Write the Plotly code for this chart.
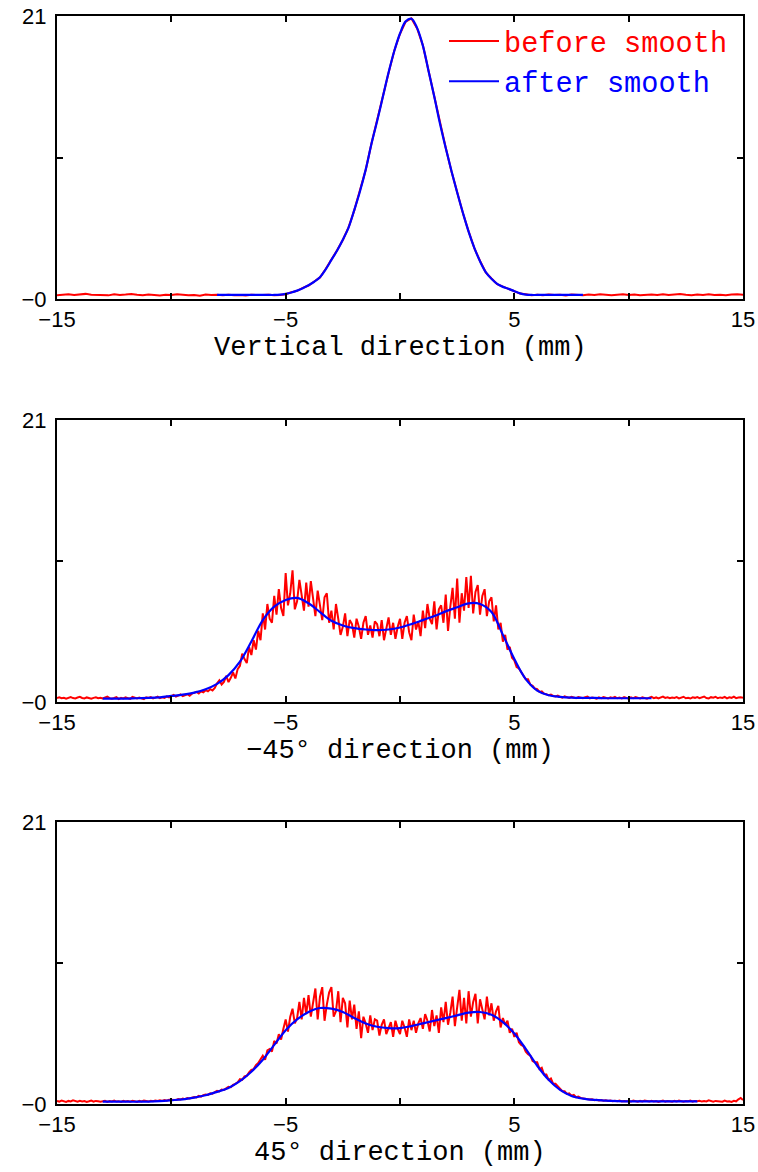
import numpy as np
import plotly.graph_objects as go

# ---------------- data ----------------
# Panel 1: vertical direction. Red sampled every 0.25 mm from -15 to 15
V_RED = [
    0.28, 0.33, 0.36, 0.30,  0.34, 0.38, 0.32, 0.29,  0.31, 0.27, 0.35, 0.30,
    0.33, 0.37, 0.31, 0.28,  0.34, 0.30, 0.26, 0.32,  0.29, 0.35, 0.31, 0.27,
    0.30, 0.25, 0.33, 0.29,  0.31, 0.28, 0.32, 0.27,  0.30, 0.26, 0.31, 0.28,
    0.29, 0.32, 0.27, 0.30,  0.36, 0.50, 0.60, 0.82,  1.00, 1.30, 1.60, 2.22,
    2.88, 3.62, 4.38, 5.32,  6.58, 8.02, 9.57, 11.52, 13.18, 15.02, 16.78, 18.42,
    19.68, 20.58, 20.82, 20.08, 18.82, 16.88, 15.02, 12.98, 11.22, 9.48, 7.92, 6.38,
    5.02, 3.78, 2.82, 1.98,  1.52, 1.10, 0.92, 0.73,  0.60, 0.40, 0.35, 0.28,
    0.32, 0.27, 0.33, 0.29,  0.31, 0.26, 0.34, 0.30,  0.28, 0.33, 0.29, 0.35,
    0.30, 0.27, 0.32, 0.36,  0.29, 0.33, 0.28, 0.31,  0.34, 0.30, 0.36, 0.29,
    0.32, 0.37, 0.31, 0.28,  0.33, 0.30, 0.35, 0.29,  0.31, 0.27, 0.33, 0.36,
    0.32,
]
# Blue sampled every 0.25 mm from -8 to 8
V_BLUE = [
    0.3, 0.3, 0.3, 0.3, 0.3, 0.3, 0.3, 0.3, 0.3, 0.3, 0.3,
    0.32, 0.38, 0.48, 0.62, 0.8, 1.02, 1.28, 1.62, 2.2, 2.9, 3.6, 4.4, 5.3,
    6.6, 8.0, 9.6, 11.5, 13.2, 15.0, 16.8, 18.4, 19.7, 20.6, 20.8, 20.1,
    18.8, 16.9, 15.0, 13.0, 11.2, 9.5, 7.9, 6.4, 5.0, 3.8, 2.8, 2.0,
    1.5, 1.12, 0.9, 0.75, 0.58, 0.42, 0.33,
    0.3, 0.3, 0.3, 0.3, 0.3, 0.3, 0.3, 0.3, 0.3, 0.3,
]

# Panel 2: -45 degree direction. Red every 0.1 mm from -15 to 15
M45_RED = [
    0.30, 0.35, 0.28, 0.32, 0.25, 0.31, 0.36, 0.29, 0.27, 0.33,
    0.38, 0.30, 0.26, 0.34, 0.29, 0.24, 0.31, 0.35, 0.28, 0.32,
    0.27, 0.33, 0.40, 0.29, 0.25, 0.30, 0.36, 0.22, 0.31, 0.27,
    0.34, 0.29, 0.24, 0.38, 0.31, 0.26, 0.33, 0.28, 0.21, 0.35,
    0.30, 0.36, 0.27, 0.33, 0.40, 0.29, 0.35, 0.31, 0.42, 0.34,
    0.45, 0.52, 0.40, 0.48, 0.56, 0.44, 0.50, 0.58, 0.47, 0.62,
    0.68, 0.75, 0.64, 0.80, 0.72, 0.88, 0.79, 0.95, 0.86, 1.05,
    1.40, 1.62, 1.31, 1.50, 1.95, 1.48, 1.80, 2.20, 1.75, 2.45,
    2.7, 3.6, 3.2, 2.9, 4.1, 3.5, 4.6, 3.9, 5.3, 4.6,
    6.6, 5.4, 7.3, 6.2, 5.9, 7.9, 6.5, 8.4, 7.0, 6.4,
    9.6, 7.2, 8.1, 9.8, 6.9, 7.5, 9.1, 8.0, 6.8, 8.9,
    7.1, 9.0, 7.6, 6.4, 8.3, 7.0, 6.1, 7.8, 8.1, 5.9,
    6.8, 5.4, 7.3, 6.2, 5.0, 5.6, 6.6, 4.9, 6.1, 5.8,
    4.8, 6.2, 5.6, 4.7, 5.9, 6.4, 5.0, 5.7, 4.8, 6.0,
    5.8, 4.9, 6.1, 4.6, 5.5, 6.3, 5.0, 5.9, 4.7, 5.6,
    6.2, 4.7, 5.9, 6.4, 5.2, 4.6, 6.5, 5.4, 6.0, 4.9,
    6.8, 5.5, 7.3, 6.2, 5.8, 7.5, 5.4, 6.9, 7.2, 5.9,
    8.0, 5.3, 7.1, 8.5, 6.2, 9.2, 5.9, 8.1, 6.8, 9.3,
    7.0, 9.4, 6.6, 8.2, 8.7, 6.5, 7.9, 8.4, 6.4, 7.5,
    7.8, 6.0, 7.2, 5.4, 5.9, 4.5, 5.0, 3.9, 4.1, 3.3,
    3.1, 2.6, 2.5, 2.2, 2.0, 1.7, 1.7, 1.3, 1.2, 1.0,
    0.95, 0.75, 0.80, 0.62, 0.58, 0.50, 0.55, 0.45, 0.42, 0.48,
    0.38, 0.32, 0.42, 0.35, 0.30, 0.38, 0.33, 0.29, 0.36, 0.31,
    0.28, 0.35, 0.40, 0.27, 0.33, 0.30, 0.25, 0.34, 0.29, 0.37,
    0.31, 0.26, 0.35, 0.30, 0.38, 0.28, 0.33, 0.27, 0.36, 0.30,
    0.25, 0.34, 0.29, 0.37, 0.31, 0.27, 0.35, 0.30, 0.24, 0.33,
    0.38, 0.29, 0.34, 0.26, 0.32, 0.40, 0.30, 0.35, 0.28, 0.33,
    0.30, 0.36, 0.27, 0.34, 0.39, 0.28, 0.32, 0.26, 0.35, 0.31,
    0.37, 0.29, 0.33, 0.41, 0.30, 0.27, 0.36, 0.32, 0.38, 0.28,
    0.34, 0.30, 0.38, 0.27, 0.35, 0.31, 0.40, 0.29, 0.33, 0.36,
    0.32,
]
# Blue every 0.5 mm from -13 to 11
M45_BLUE = [
    0.25, 0.25, 0.25, 0.28, 0.3, 0.35, 0.45, 0.55, 0.7, 0.95,
    1.35, 2.0, 3.0, 4.5, 6.1, 7.1, 7.6, 7.75, 7.35, 6.7,
    6.05, 5.7, 5.5, 5.4, 5.35, 5.4, 5.55, 5.8, 6.1, 6.4,
    6.75, 7.05, 7.35, 7.3, 6.7, 5.0, 3.2, 1.7, 0.85, 0.5,
    0.38, 0.32, 0.3, 0.3, 0.28, 0.28, 0.28, 0.28, 0.28,
]

# Panel 3: 45 degree direction. Red every 0.1 mm from -15 to 15
P45_RED = [
    0.22, 0.18, 0.25, 0.20, 0.16, 0.23, 0.19, 0.27, 0.21, 0.17,
    0.24, 0.19, 0.22, 0.15, 0.20, 0.26, 0.18, 0.23, 0.21, 0.17,
    0.20, 0.24, 0.16, 0.22, 0.19, 0.25, 0.18, 0.21, 0.15, 0.23,
    0.19, 0.22, 0.17, 0.24, 0.20, 0.16, 0.23, 0.19, 0.25, 0.21,
    0.18, 0.24, 0.20, 0.26, 0.22, 0.27, 0.23, 0.29, 0.25, 0.31,
    0.30, 0.34, 0.29, 0.37, 0.33, 0.40, 0.36, 0.44, 0.41, 0.47,
    0.52, 0.49, 0.60, 0.55, 0.66, 0.70, 0.68, 0.80, 0.76, 0.88,
    0.98, 0.93, 1.08, 1.05, 1.18, 1.28, 1.25, 1.42, 1.50, 1.62,
    1.85, 1.80, 2.05, 2.10, 2.35, 2.55, 2.60, 2.90, 3.05, 3.30,
    3.6, 3.3, 4.0, 4.1, 3.9, 4.7, 4.5, 5.2, 4.8, 5.6,
    6.3, 5.4, 6.5, 7.1, 6.0, 6.4, 7.6, 6.3, 7.9, 6.7,
    8.1, 6.5, 7.6, 8.6, 6.3, 8.0, 8.7, 6.2, 7.4, 8.3,
    8.7, 6.5, 6.9, 8.4, 6.1, 7.9, 7.5, 5.7, 7.7, 6.3,
    7.4, 5.6, 6.9, 4.9, 6.5, 6.0, 5.3, 6.6, 5.5, 6.3,
    6.2, 5.1, 5.9, 6.3, 5.2, 5.6, 6.1, 5.0, 6.2, 5.6,
    5.2, 6.2, 5.7, 5.0, 6.3, 5.5, 6.2, 5.3, 6.0, 6.4,
    5.6, 6.7, 6.2, 5.4, 7.0, 5.8, 6.6, 5.3, 7.2, 6.1,
    7.6, 5.9, 6.8, 8.0, 5.8, 7.2, 8.5, 6.2, 7.9, 6.0,
    8.4, 6.5, 7.6, 8.2, 6.0, 7.8, 7.1, 6.3, 8.0, 6.6,
    7.5, 6.2, 6.9, 7.3, 5.7, 6.4, 5.9, 6.2, 5.3, 5.6,
    5.0, 5.3, 4.6, 4.4, 4.3, 3.9, 3.7, 3.6, 3.2, 3.1,
    3.1, 2.6, 2.7, 2.2, 2.2, 1.8, 1.9, 1.5, 1.5, 1.3,
    1.15, 0.95, 0.95, 0.75, 0.80, 0.62, 0.68, 0.50, 0.55, 0.45,
    0.42, 0.38, 0.35, 0.33, 0.36, 0.28, 0.31, 0.26, 0.29, 0.24,
    0.27, 0.22, 0.26, 0.20, 0.24, 0.21, 0.25, 0.19, 0.23, 0.20,
    0.22, 0.18, 0.25, 0.20, 0.17, 0.23, 0.19, 0.26, 0.21, 0.18,
    0.24, 0.19, 0.22, 0.16, 0.21, 0.25, 0.18, 0.22, 0.20, 0.17,
    0.23, 0.19, 0.25, 0.21, 0.17, 0.22, 0.20, 0.26, 0.18, 0.23,
    0.20, 0.24, 0.18, 0.22, 0.19, 0.27, 0.21, 0.17, 0.23, 0.20,
    0.22, 0.17, 0.25, 0.19, 0.21, 0.16, 0.24, 0.20, 0.35, 0.45,
    0.30,
]
# Blue every 0.5 mm from -13 to 13
P45_BLUE = [
    0.17, 0.17, 0.17, 0.17, 0.18, 0.22, 0.28, 0.35, 0.48, 0.65,
    0.9, 1.2, 1.7, 2.4, 3.3, 4.4, 5.5, 6.3, 6.85, 7.15,
    7.1, 6.85, 6.4, 6.0, 5.75, 5.65, 5.65, 5.8, 6.0, 6.2,
    6.4, 6.6, 6.8, 6.85, 6.65, 6.1, 5.25, 4.1, 2.85, 1.8,
    1.05, 0.6, 0.4, 0.3, 0.25, 0.22, 0.2, 0.2, 0.2, 0.2,
    0.2, 0.2, 0.2,
]

X_TICKS = [-15, -10, -5, 0, 5, 10, 15]
X_TICKTEXT = ["\u221215", "", "\u22125", "", "5", "", "15"]
Y_TICKS = [0, 10.5, 21]
Y_TICKTEXT = ["\u22120", "", "21"]
TITLES = ["Vertical direction (mm)", "\u221245\u00b0 direction (mm)", "45\u00b0 direction (mm)"]

# (red values, red x-range, blue values, blue x-range)
PANELS = [
    (V_RED, (-15, 15), V_BLUE, (-8, 8)),
    (M45_RED, (-15, 15), M45_BLUE, (-13, 11)),
    (P45_RED, (-15, 15), P45_BLUE, (-13, 13)),
]

# ---------------- figure ----------------
W, H = 758, 1172
ML, MR, MT, MB = 57, 15, 16, 68
plot_h = H - MT - MB
panel_px = [(16, 299), (420, 702), (822, 1104)]  # (top, bottom) in pixels

MONO = "Liberation Mono"
SANS = "Liberation Sans"

fig = go.Figure()
for i, (red, rr, blue, br) in enumerate(PANELS):
    n = "" if i == 0 else str(i + 1)
    xr = np.linspace(rr[0], rr[1], len(red))
    xb = np.linspace(br[0], br[1], len(blue))
    fig.add_trace(go.Scatter(
        x=xr, y=red, mode="lines", xaxis="x" + n, yaxis="y" + n,
        line=dict(color="#ff0000", width=2),
        name="<span style='color:#ff0000'>before smooth</span>",
        showlegend=(i == 0), legendgroup="red", hoverinfo="skip"))
    fig.add_trace(go.Scatter(
        x=xb, y=blue, mode="lines", xaxis="x" + n, yaxis="y" + n,
        line=dict(color="#0000ff", width=2.2, shape="spline"),
        name="<span style='color:#0000ff'>after smooth</span>",
        showlegend=(i == 0), legendgroup="blue", hoverinfo="skip"))

    top, bot = panel_px[i]
    d0 = (H - MB - bot) / plot_h
    d1 = (H - MB - top) / plot_h
    common = dict(ticks="inside", ticklen=6, tickwidth=1.5, tickcolor="black",
                  showline=True, linecolor="black", linewidth=2, mirror="ticks",
                  showgrid=False, zeroline=False, automargin=False,
                  tickfont=dict(family=SANS, size=22, color="black"))
    fig.update_layout(**{
        "xaxis" + n: dict(range=[-15, 15], domain=[0, 1], anchor="y" + n,
                          tickmode="array", tickvals=X_TICKS, ticktext=X_TICKTEXT,
                          ticklabelstandoff=0, **common),
        "yaxis" + n: dict(range=[0, 21], domain=[d0, d1], anchor="x" + n,
                          tickmode="array", tickvals=Y_TICKS, ticktext=Y_TICKTEXT,
                          ticklabelstandoff=4, **common),
    })
    fig.add_annotation(text=TITLES[i], xref="x" + n + " domain", yref="y" + n + " domain",
                       x=0.5, y=0, yshift=-49, xanchor="center", yanchor="middle",
                       showarrow=False, font=dict(family=MONO, size=27, color="black"))

fig.update_layout(
    width=W, height=H,
    margin=dict(l=ML, r=MR, t=MT, b=MB, autoexpand=False),
    paper_bgcolor="white", plot_bgcolor="white",
    showlegend=True,
    legend=dict(x=(444 - ML) / (W - ML - MR), y=1.0, xanchor="left", yanchor="top",
                bgcolor="rgba(0,0,0,0)", borderwidth=0,
                font=dict(family=MONO, size=28.6, color="black"),
                tracegroupgap=0, itemwidth=50),
)

# remove the default 8px page margin so the figure sits at the window's corner
fig.write_html("out.html",
               config={"displayModeBar": False},
               post_script="document.body.style.margin='0';document.body.style.overflow='hidden';")
